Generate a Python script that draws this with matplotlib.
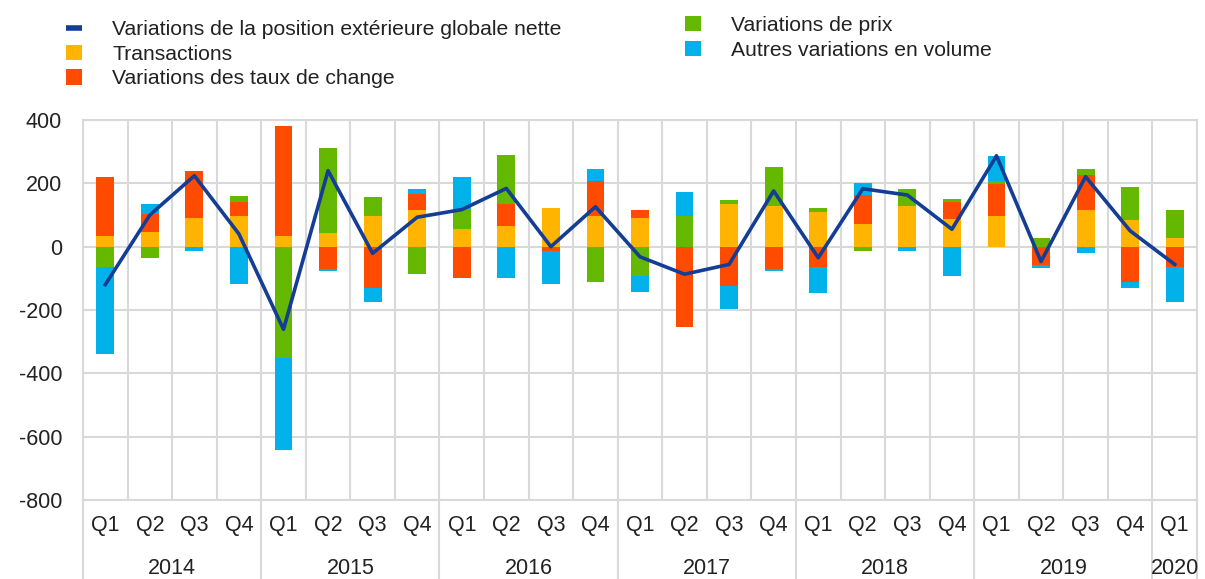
import numpy as np
import matplotlib
matplotlib.use("Agg")
import matplotlib.pyplot as plt
import matplotlib.transforms as mtransforms
from matplotlib.lines import Line2D

plt.rcParams['font.family'] = ['Liberation Sans', 'DejaVu Sans']
plt.rcParams['axes.unicode_minus'] = False

# donnees (milliards d'EUR), 2014 T1 - 2020 T1
trimestres = ["Q1", "Q2", "Q3", "Q4"] * 6 + ["Q1"]
annees = ["2014", "2015", "2016", "2017", "2018", "2019", "2020"]

transactions = [35, 47, 92, 97, 35, 42, 97, 116, 55, 66, 121, 97, 92, 0, 134, 128, 109, 72, 128, 86, 97, 0, 116, 84, 28]
taux_change = [185, 56, 147, 43, 347, -70, -131, 49, -100, 68, -14, 110, 24, -253, -124, -70, -63, 91, 0, 54, 100, -58, 110, -113, -63]
prix = [-63, -37, 0, 19, -352, 271, 61, -87, 64, 155, 0, -113, -93, 97, 13, 123, 12, -13, 54, 12, 11, 28, 18, 105, 88]
autres = [-277, 31, -14, -118, -290, -6, -43, 18, 102, -100, -104, 37, -49, 75, -74, -6, -84, 39, -13, -93, 79, -10, -19, -17, -111]
pos_nette = [-120, 100, 224, 40, -261, 240, -21, 93, 117, 184, 0, 126, -32, -87, -56, 176, -35, 183, 163, 55, 287, -47, 221, 50, -56]

noms = ["Transactions", "Variations des taux de change", "Variations de prix", "Autres variations en volume"]
couleurs = ["#FFB400", "#FF4B00", "#65B800", "#00B1EA"]
bleu = "#143D96"
gris = "#D9D9D9"
texte = "#222222"

fig = plt.figure(figsize=(12.05, 5.79), dpi=100)
ax = fig.add_axes([83 / 1205, 79 / 579, 1114 / 1205, 380 / 579])

x = np.arange(len(trimestres))
haut = np.zeros(len(x))
bas = np.zeros(len(x))
barres = []
for serie, nom, c in zip([transactions, taux_change, prix, autres], noms, couleurs):
    v = np.array(serie, dtype=float)
    base = np.where(v >= 0, haut, bas)
    b = ax.bar(x, v, 0.4, bottom=base, color=c, label=nom, zorder=2)
    barres.append(b)
    haut = haut + np.where(v >= 0, v, 0)
    bas = bas + np.where(v < 0, v, 0)

ligne, = ax.plot(x, pos_nette, color=bleu, lw=2.6, zorder=3)

ax.set_xlim(-0.5, len(x) - 0.5)
ax.set_ylim(-800, 400)
ax.set_yticks(np.arange(-800, 401, 200))
ax.set_xticks(x)
ax.set_xticklabels(trimestres)
ax.set_xticks(np.arange(-0.5, len(x), 1), minor=True)
ax.grid(True, which='major', axis='y', color=gris, lw=1.5, zorder=0)
ax.grid(True, which='minor', axis='x', color=gris, lw=1.5, zorder=0)
ax.tick_params(which='both', length=0)
ax.tick_params(axis='y', pad=15, labelsize=15.5, labelcolor=texte)
ax.tick_params(axis='x', pad=11, labelsize=15.5, labelcolor=texte)
for s in ax.spines.values():
    s.set_color(gris)
    s.set_linewidth(1.5)

# separateurs et annees sous l'axe
trans = mtransforms.blended_transform_factory(ax.transData, ax.transAxes)
for k in range(0, len(x) + 1, 4):
    ax.plot([k - 0.5, k - 0.5], [0, -0.21], transform=trans, color=gris, lw=1.5, clip_on=False)
ax.plot([len(x) - 0.5] * 2, [0, -0.21], transform=trans, color=gris, lw=1.5, clip_on=False)
for i, a in enumerate(annees):
    xc = i * 4 + 1.5 if i < len(annees) - 1 else len(x) - 1
    ax.text(xc, -0.18, a, transform=trans, ha='center', va='center', fontsize=15.5, color=texte)

# legende
h1 = Line2D([], [], color=bleu, lw=4, solid_capstyle='butt')
opts = dict(loc='upper left', frameon=False, fontsize=15.2, handlelength=0.76, handleheight=0.72,
            handletextpad=1.44, labelspacing=0.27, borderpad=0, borderaxespad=0)
leg1 = fig.legend([h1, barres[0], barres[1]],
                  ["Variations de la position extérieure globale nette", noms[0], noms[1]],
                  bbox_to_anchor=(66 / 1205, 1 - 20 / 579), **opts)
leg2 = fig.legend([barres[2], barres[3]], [noms[2], noms[3]],
                  bbox_to_anchor=(685 / 1205, 1 - 16 / 579), **opts)
for lg in (leg1, leg2):
    for t in lg.get_texts():
        t.set_color(texte)

fig.savefig("out.png", dpi=100)
